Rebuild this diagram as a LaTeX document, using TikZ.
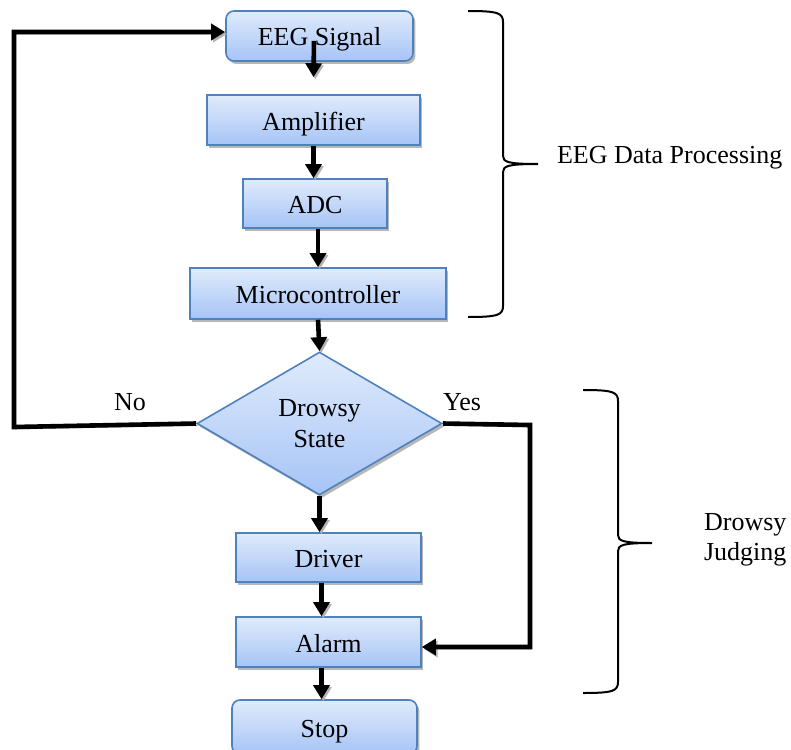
\documentclass[tikz,border=0pt]{standalone}
\usepackage{fontspec}
\setmainfont{Liberation Serif}
\usetikzlibrary{arrows.meta,positioning,shapes.geometric,shadows}

\definecolor{boxtop}{RGB}{224,235,252}
\definecolor{boxbottom}{RGB}{166,196,246}
\definecolor{boxline}{RGB}{79,129,189}

\tikzset{
  shadedbox/.style={draw=boxline, line width=0.8pt, top color=boxtop, bottom color=boxbottom,
    inner sep=0pt, drop shadow={shadow xshift=1.2pt, shadow yshift=-1.5pt, fill=black!40, opacity=0.7}},
  block/.style={shadedbox, rectangle, text height=10pt, text depth=0pt},
  startstop/.style={block, rounded corners=4pt},
  decision/.style={shadedbox, diamond, align=center},
  flow/.style={line width=2.3pt, -{Triangle[length=7pt,width=8pt]},
    preaction={draw=black!30, transform canvas={shift={(0.9pt,-1pt)}}}},
  bracket/.style={line width=1pt}
}

\begin{document}
\begin{tikzpicture}[x=0.5pt, y=-0.5pt, every node/.style={font=\fontsize{13}{15}\selectfont}]
  \clip (0,0) rectangle (791,749);

  % processing chain
  \node[startstop, minimum width=93.5pt, minimum height=25pt] (eeg) at (319.5,36) {EEG Signal};
  \node[block, minimum width=106.5pt, minimum height=25pt] (amp) at (313.5,120) {Amplifier};
  \node[block, minimum width=72pt, minimum height=24.5pt] (adc) at (315,203.5) {ADC};
  \node[block, minimum width=128pt, minimum height=25.5pt] (micro) at (318,293.5) {Microcontroller};
  \node[decision, minimum width=122.5pt, minimum height=71.5pt] (dec) at (319.5,423.5) {Drowsy\\[0.3pt]State};
  \node[block, minimum width=92.5pt, minimum height=24.5pt] (driver) at (328.5,557.5) {Driver};
  \node[block, minimum width=92.5pt, minimum height=25pt] (alarm) at (328.5,642) {Alarm};
  \node[startstop, minimum width=92.5pt, minimum height=27pt] (stop) at (324.5,727) {Stop};

  \node (no) at (130,402) {No};
  \node (yes) at (462,402) {Yes};

  \coordinate (nocorner) at (14,427);
  \coordinate (yescorner) at (530,425);

  \draw[flow] ([xshift=-2.75pt,yshift=10.5pt]eeg.south) -- ([yshift=8.5pt]amp.north);
  \draw[flow] (amp.south) -- (amp.south |- adc.north);
  \draw[flow] (micro.north |- adc.south) -- (micro.north);
  \draw[flow] (micro.south) -- (dec.north);
  \draw[flow] (dec.south) -- (dec.south |- driver.north);
  \draw[flow] ([xshift=-3.5pt]driver.south) -- ([xshift=-3.5pt]alarm.north);
  \draw[flow] ([xshift=-3.5pt]alarm.south) -- ([xshift=-3.5pt]alarm.south |- stop.north);

  % decision branches
  \draw[flow] (dec.west) -- (nocorner) |- ([yshift=2pt]eeg.west);
  \draw[flow] (dec.east) -- (yescorner) |- ([yshift=-2.5pt]alarm.east);

  % braces
  \draw[bracket] (468,11) .. controls (498,11) and (503,13) .. (503,22) -- (503,156)
    .. controls (503,162) and (508,164) .. (538,164)
    .. controls (508,164) and (503,166) .. (503,172) -- (503,306)
    .. controls (503,315) and (498,317) .. (468,317);
  \draw[bracket] (583,390) .. controls (613,390) and (618,392) .. (618,401) -- (618,535)
    .. controls (618,541) and (623,543) .. (652,543)
    .. controls (623,543) and (618,545) .. (618,551) -- (618,682)
    .. controls (618,691) and (613,693) .. (583,693);

  \node[anchor=west] (dataproc) at (550,158) {EEG Data Processing};
  \node[anchor=west, align=left] (judging) at (697,540) {Drowsy\\Judging};
\end{tikzpicture}
\end{document}
